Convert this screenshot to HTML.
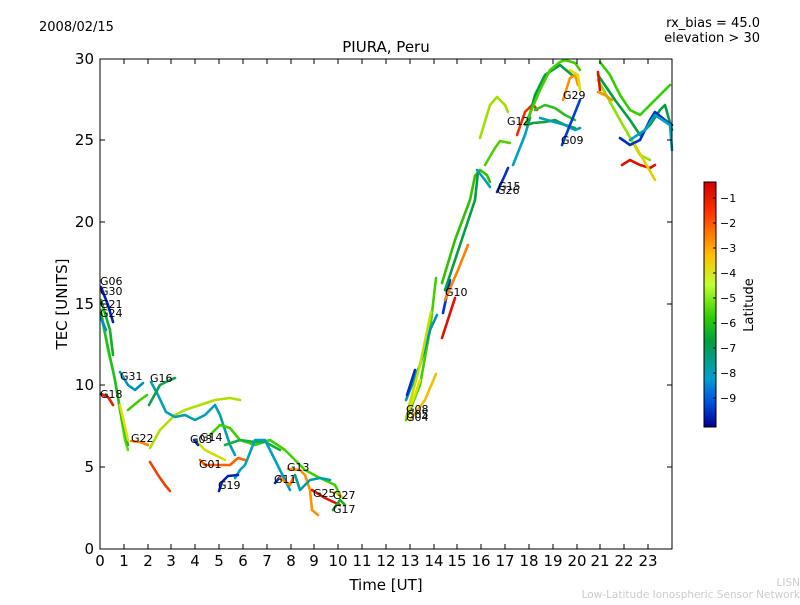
<!DOCTYPE html>
<html><head><meta charset="utf-8"><style>
body{margin:0;background:#fff;width:800px;height:600px;overflow:hidden}
svg{font-family:"DejaVu Sans","Liberation Sans",sans-serif}
</style></head><body>
<svg width="800" height="600" xmlns="http://www.w3.org/2000/svg">
<defs>
<linearGradient id="jet" x1="0" y1="0" x2="0" y2="1">
<stop offset="0" stop-color="#d00000"/><stop offset="0.12" stop-color="#ff3000"/>
<stop offset="0.3" stop-color="#ffc000"/><stop offset="0.42" stop-color="#c0ff30"/>
<stop offset="0.55" stop-color="#30d000"/><stop offset="0.65" stop-color="#00a040"/>
<stop offset="0.8" stop-color="#00a0d0"/><stop offset="0.9" stop-color="#0050e0"/>
<stop offset="1" stop-color="#000090"/></linearGradient>
</defs>
<text x="39" y="31" font-size="13">2008/02/15</text>
<text x="760" y="27" font-size="13" text-anchor="end">rx_bias = 45.0</text>
<text x="760" y="42" font-size="13" text-anchor="end">elevation &gt; 30</text>
<text x="386" y="52" font-size="15" text-anchor="middle">PIURA, Peru</text>
<g fill="none" stroke-width="2.6" stroke-linecap="round" stroke-linejoin="round">
<polyline stroke="#0020c0" points="101,287 108,305 113,322"/>
<polyline stroke="#10b020" points="101,300 110,330 113,355"/>
<polyline stroke="#60e000" points="101,310 108,350 114,375 120,410 125,440 128,450"/>
<polyline stroke="#20c020" points="101,315 115,380 122,420 128,445"/>
<polyline stroke="#0090d0" points="101,318 106,330"/>
<polyline stroke="#0090c0" points="120,372 128,385 135,390 143,383"/>
<polyline stroke="#40d000" points="128,410 140,400 147,395"/>
<polyline stroke="#e02000" points="101,394 108,397 113,405"/>
<polyline stroke="#e0e000" points="120,405 128,440"/>
<polyline stroke="#ff8000" points="131,441 140,442 148,445"/>
<polyline stroke="#b0e000" points="150,448 160,430 175,415 185,410 200,405 215,400 230,398 240,400"/>
<polyline stroke="#00a0b0" points="151,382 158,395 166,412 175,417 185,415 195,420 205,415 210,410 215,405 220,415 225,430 230,445 235,455"/>
<polyline stroke="#10a050" points="149,405 160,385 170,380 175,378"/>
<polyline stroke="#f04000" points="150,462 158,475 165,485 170,491"/>
<polyline stroke="#40d000" points="210,435 220,425 230,428 240,440 255,445 270,440 285,450 295,460 305,470 320,478 335,485 340,495"/>
<polyline stroke="#10b040" points="225,445 240,440 255,442 265,442 280,450"/>
<polyline stroke="#d0e000" points="195,440 205,450 215,455 225,460"/>
<polyline stroke="#00a0c0" points="235,478 240,470 245,465 255,440 265,440 270,450 275,460 280,470 285,480 290,490"/>
<polyline stroke="#ff6000" points="200,460 205,465 230,465 238,458 245,460"/>
<polyline stroke="#0020c0" points="219,491 222,482 228,476 238,475"/>
<polyline stroke="#0030c0" points="194,440 198,445"/>
<polyline stroke="#0030c0" points="275,483 280,477"/>
<polyline stroke="#ff8000" points="280,478 290,485 293,478"/>
<polyline stroke="#ff9000" points="288,469 300,470 305,475 310,490 312,510 318,515"/>
<polyline stroke="#00a0a0" points="295,475 300,490 305,485 310,480 320,478 330,480"/>
<polyline stroke="#e01000" points="312,490 325,498 340,505"/>
<polyline stroke="#e0d000" points="335,492 342,497"/>
<polyline stroke="#10b020" points="333,510 340,500 345,505"/>
<polyline stroke="#40d000" points="406,420 420,385 430,330 436,278"/>
<polyline stroke="#0090c0" points="406,400 420,365 430,330 437,315"/>
<polyline stroke="#c0e000" points="408,410 420,365 431,312"/>
<polyline stroke="#0030c0" points="407,395 415,370"/>
<polyline stroke="#f0c000" points="410,420 425,400 436,374"/>
<polyline stroke="#e0e000" points="406,417 415,395 420,380"/>
<polyline stroke="#0030d0" points="443,313 450,280"/>
<polyline stroke="#ff8000" points="445,300 458,270 468,245"/>
<polyline stroke="#e01000" points="442,338 455,298"/>
<polyline stroke="#30c000" points="442,283 455,240 470,200 475,176 480,170 487,175 490,182"/>
<polyline stroke="#00a040" points="445,290 460,245 475,200 478,172"/>
<polyline stroke="#00a0b0" points="477,170 485,180 490,187"/>
<polyline stroke="#a0e000" points="480,138 490,105 497,97 505,105 508,112"/>
<polyline stroke="#50d000" points="485,165 495,148 500,141 510,143"/>
<polyline stroke="#0030c0" points="497,192 505,175 508,168"/>
<polyline stroke="#00a0c0" points="513,165 525,135 530,118"/>
<polyline stroke="#f03000" points="517,135 525,112 533,104 537,110"/>
<polyline stroke="#00a040" points="527,125 535,95 545,75 560,65 572,75"/>
<polyline stroke="#40d000" points="525,125 540,90 550,70 560,62 565,60 575,63 580,70"/>
<polyline stroke="#10a040" points="527,125 533,123 545,122 555,120 565,125 575,128"/>
<polyline stroke="#30c020" points="535,110 545,105 555,108 565,115 575,120"/>
<polyline stroke="#00a0b0" points="540,118 565,125 575,130 580,128"/>
<polyline stroke="#0040d0" points="562,145 570,125 580,100"/>
<polyline stroke="#ff9000" points="563,100 570,78 575,75 578,85"/>
<polyline stroke="#e0e000" points="570,70 578,75 580,90"/>
<polyline stroke="#30d000" points="600,62 610,75 620,95 630,110 640,115 650,105 660,95 670,85"/>
<polyline stroke="#00a040" points="598,75 615,100 630,120 640,135 650,125 660,110 665,105 672,130"/>
<polyline stroke="#90e000" points="598,80 620,120 640,155 650,160"/>
<polyline stroke="#0030c0" points="620,138 630,145 640,140 650,120 655,112 665,120 672,125"/>
<polyline stroke="#00a0c0" points="630,140 645,130 655,115 670,125 672,150"/>
<polyline stroke="#e01000" points="622,165 630,160 640,165 650,168 655,165"/>
<polyline stroke="#e0d000" points="635,145 655,180"/>
<polyline stroke="#e01000" points="598,72 600,90"/>
<polyline stroke="#ff9000" points="598,92 605,95 612,100"/>
</g>
<g font-size="11">
<text x="100" y="285">G06</text><text x="100" y="295">G30</text><text x="100" y="308">G21</text><text x="100" y="317">G24</text>
<text x="100" y="398">G18</text><text x="120" y="380">G31</text><text x="150" y="382">G16</text>
<text x="131" y="442">G22</text><text x="190" y="443">G03</text><text x="200" y="441">G14</text>
<text x="199" y="468">G01</text><text x="218" y="489">G19</text><text x="274" y="483">G11</text>
<text x="287" y="471">G13</text><text x="313" y="497">G25</text><text x="333" y="499">G27</text><text x="333" y="513">G17</text>
<text x="406" y="413">G08</text><text x="406" y="418">G05</text><text x="406" y="421">G04</text>
<text x="445" y="296">G10</text><text x="498" y="190">G15</text><text x="497" y="194">G26</text>
<text x="507" y="125">G12</text><text x="563" y="99">G29</text><text x="561" y="144">G09</text>
</g>
<rect x="100" y="59" width="572" height="490" fill="none" stroke="#000" stroke-width="1"/>
<g stroke="#000" stroke-width="1">
<path d="M100,549v-5M124,549v-5M148,549v-5M171,549v-5M195,549v-5M219,549v-5M243,549v-5M267,549v-5M291,549v-5M314,549v-5M338,549v-5M362,549v-5M386,549v-5M410,549v-5M434,549v-5M457,549v-5M481,549v-5M505,549v-5M529,549v-5M553,549v-5M577,549v-5M600,549v-5M624,549v-5M648,549v-5"/>
<path d="M100,59v5M124,59v5M148,59v5M171,59v5M195,59v5M219,59v5M243,59v5M267,59v5M291,59v5M314,59v5M338,59v5M362,59v5M386,59v5M410,59v5M434,59v5M457,59v5M481,59v5M505,59v5M529,59v5M553,59v5M577,59v5M600,59v5M624,59v5M648,59v5"/>
<path d="M100,467h5M100,385h5M100,304h5M100,222h5M100,140h5M672,467h-5M672,385h-5M672,304h-5M672,222h-5M672,140h-5"/>
</g>
<g font-size="15" text-anchor="middle">
<text x="100" y="566">0</text><text x="124" y="566">1</text><text x="148" y="566">2</text><text x="171" y="566">3</text><text x="195" y="566">4</text><text x="219" y="566">5</text><text x="243" y="566">6</text><text x="267" y="566">7</text><text x="291" y="566">8</text><text x="314" y="566">9</text><text x="338" y="566">10</text><text x="362" y="566">11</text><text x="386" y="566">12</text><text x="410" y="566">13</text><text x="434" y="566">14</text><text x="457" y="566">15</text><text x="481" y="566">16</text><text x="505" y="566">17</text><text x="529" y="566">18</text><text x="553" y="566">19</text><text x="577" y="566">20</text><text x="600" y="566">21</text><text x="624" y="566">22</text><text x="648" y="566">23</text>
</g>
<g font-size="15" text-anchor="end">
<text x="94" y="554">0</text><text x="94" y="472">5</text><text x="94" y="390">10</text><text x="94" y="309">15</text><text x="94" y="227">20</text><text x="94" y="145">25</text><text x="94" y="64">30</text>
</g>
<text x="386" y="590" font-size="15" text-anchor="middle">Time [UT]</text>
<text transform="translate(67,304) rotate(-90)" font-size="15" text-anchor="middle">TEC [UNITS]</text>
<rect x="704" y="182" width="12" height="245" fill="url(#jet)" stroke="#000" stroke-width="1"/>
<g stroke="#000"><path d="M716,198h-3M716,223h-3M716,248h-3M716,273h-3M716,298h-3M716,323h-3M716,348h-3M716,373h-3M716,398h-3"/></g>
<g font-size="11"><text x="720" y="202">−1</text><text x="720" y="227">−2</text><text x="720" y="252">−3</text><text x="720" y="277">−4</text><text x="720" y="302">−5</text><text x="720" y="327">−6</text><text x="720" y="352">−7</text><text x="720" y="377">−8</text><text x="720" y="402">−9</text></g>
<text transform="translate(753,305) rotate(-90)" font-size="13" text-anchor="middle">Latitude</text>
<text x="800" y="586" font-size="10.5" fill="#ccc" text-anchor="end">LISN</text>
<text x="800" y="598" font-size="10.5" fill="#ccc" text-anchor="end">Low-Latitude Ionospheric Sensor Network</text>
</svg>
</body></html>
